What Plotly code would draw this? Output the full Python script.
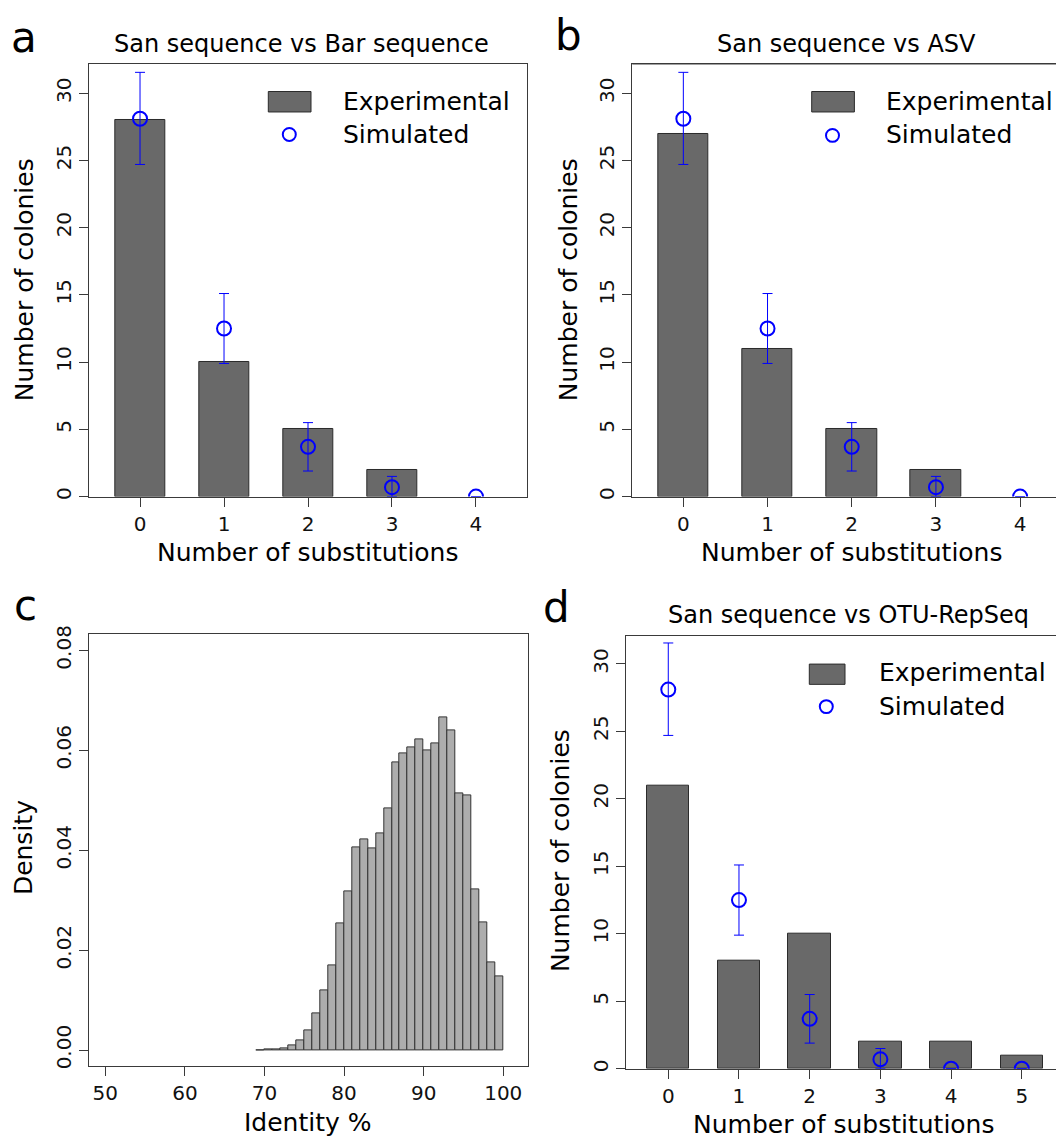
import plotly.graph_objects as go

# The page body has an 8px margin: the figure is drawn 8px smaller and
# coordinates below are given in window pixels, converted with that offset.
W, H = 1064, 1142
OFF = 8
FW, FH = W - OFF, H - OFF
FONT = "DejaVu Sans"

# ---------------- data ----------------
subs_ab = [0, 1, 2, 3, 4]
subs_d = [0, 1, 2, 3, 4, 5]
exp_a = [28, 10, 5, 2, 0]
exp_b = [27, 11, 5, 2, 0]
exp_d = [21, 8, 10, 2, 2, 1]
sim_mean = [28.1, 12.5, 3.7, 0.7, 0.0, 0.0]
sim_upper = [31.55, 15.1, 5.5, 1.5, None, None]
sim_lower = [24.7, 9.9, 1.9, 0.0, None, None]

ident_left = list(range(69, 100))  # histogram bin left edges, width 1
ident_density = [0.00003, 0.00005, 0.0001, 0.0003, 0.0009, 0.002, 0.0039, 0.0074,
                 0.012, 0.017, 0.0254, 0.0318, 0.0405, 0.0421, 0.0404, 0.0433,
                 0.0484, 0.0576, 0.0594, 0.0606, 0.0621, 0.060, 0.0613, 0.0666,
                 0.064, 0.0514, 0.051, 0.0322, 0.0256, 0.0175, 0.0147]

titles = ["San sequence vs Bar sequence", "San sequence vs ASV", "San sequence vs OTU-RepSeq"]
legend_labels = ["Experimental", "Simulated"]

# ---------------- helpers ----------------
def px(x):
    return min(1.0, (x - OFF) / FW)

def py(y):
    return min(1.0, 1 - (y - OFF) / FH)

def err_plus(n):
    return [None if u is None else u - m for u, m in zip(sim_upper[:n], sim_mean[:n])]

def err_minus(n):
    return [None if l is None else m - l for l, m in zip(sim_lower[:n], sim_mean[:n])]

BAR_FILL = "#696969"
BAR_LINE = "#2b2b2b"
AX_LINE = "#3a3a3a"
BLUE = "#0000ff"

fig = go.Figure()

def add_bar_panel(xa, ya, cats, exp_vals):
    n = len(cats)
    fig.add_trace(go.Bar(x=cats, y=exp_vals, width=0.6,
                         marker=dict(color=BAR_FILL, line=dict(color=BAR_LINE, width=[1 if v > 0 else 0 for v in exp_vals])),
                         xaxis=xa, yaxis=ya, showlegend=False))
    fig.add_trace(go.Scatter(x=cats, y=sim_mean[:n], mode="markers",
                             marker=dict(symbol="circle-open", size=14, color=BLUE, line=dict(width=2, color=BLUE)),
                             error_y=dict(type="data", symmetric=False, array=err_plus(n), arrayminus=err_minus(n),
                                          color=BLUE, thickness=1, width=5),
                             xaxis=xa, yaxis=ya, showlegend=False, cliponaxis=True))

add_bar_panel("x", "y", subs_ab, exp_a)
add_bar_panel("x2", "y2", subs_ab, exp_b)
add_bar_panel("x4", "y4", subs_d, exp_d)

fig.add_trace(go.Bar(x=[l + 0.5 for l in ident_left], y=ident_density, width=1,
                     marker=dict(color="#adadad", line=dict(color="#333333", width=1)),
                     xaxis="x3", yaxis="y3", showlegend=False))

tickfont = dict(family=FONT, size=20, color="#111111")

def xaxis_cfg(domain, rng, tickvals, anchor, mirror=True):
    return dict(domain=domain, range=rng, tickvals=tickvals, showline=True, linecolor=AX_LINE, linewidth=1,
                mirror=mirror, ticks="outside", ticklen=9, tickcolor=AX_LINE, tickfont=tickfont,
                showgrid=False, zeroline=False, fixedrange=True, anchor=anchor)

def yaxis_cfg(domain, rng, tickvals, anchor, mirror=True, fmt=None):
    d = dict(domain=domain, range=rng, tickvals=tickvals, showline=True, linecolor=AX_LINE, linewidth=1,
             mirror=mirror, ticks="outside", ticklen=9, tickcolor=AX_LINE, tickfont=tickfont, tickangle=-90,
             showgrid=False, zeroline=False, fixedrange=True, anchor=anchor)
    if fmt:
        d["tickformat"] = fmt
    return d

yt = [0, 5, 10, 15, 20, 25, 30]
fig.update_layout(
    xaxis=xaxis_cfg([px(89.3), px(527.3)], [-0.604, 4.611], subs_ab, "y"),
    yaxis=yaxis_cfg([py(492.7), py(55.5)], [0, 32.17], yt, "x"),
    xaxis2=xaxis_cfg([px(632.3), 1.0], [-0.606, 4.521], subs_ab, "y2"),
    yaxis2=yaxis_cfg([py(492.7), py(55.5)], [0, 32.17], yt, "x2", mirror=False),
    xaxis3=xaxis_cfg([px(89.3), px(527.7)], [47.99, 103.07], [50, 60, 70, 80, 90, 100], "y3"),
    yaxis3=yaxis_cfg([py(1068.3), py(632)], [-0.0032, 0.0832], [0, 0.02, 0.04, 0.06, 0.08], "x3", fmt=".2f"),
    xaxis4=xaxis_cfg([px(626), px(1063)], [-0.598, 5.583], subs_d, "y4"),
    yaxis4=yaxis_cfg([py(1071), py(633.3)], [0, 32.09], yt, "x4"),
)

# top line for panel b (its right edge lies outside the picture)
fig.add_shape(type="line", xref="paper", yref="paper", x0=px(632.3), x1=1.0, y0=py(55.5), y1=py(55.5),
              line=dict(color=AX_LINE, width=1))

annotations = []

def text(x, y, s, size, angle=0, xanchor="center", color="#000000"):
    annotations.append(dict(x=px(x), y=py(y), xref="paper", yref="paper", text=s, showarrow=False,
                            textangle=angle, xanchor=xanchor, yanchor="middle",
                            font=dict(family=FONT, size=size, color=color)))

# panel letters
text(24, 29, "a", 42)
text(568, 27, "b", 42)
text(25, 603, "c", 42)
text(556, 605, "d", 42)

# titles
text(301, 35, titles[0], 24)
text(846, 35, titles[1], 24)
text(848.6, 612, titles[2], 24)

# axis titles
text(308, 549, "Number of substitutions", 25)
text(851.7, 549, "Number of substitutions", 25)
text(844, 1127, "Number of substitutions", 25)
text(307.5, 1125, "Identity %", 25)
text(24, 274, "Number of colonies", 25, angle=-90)
text(568, 274, "Number of colonies", 25, angle=-90)
text(560, 851, "Number of colonies", 25, angle=-90)
text(23, 848, "Density", 25, angle=-90)

# legends
def legend(rx0, rx1, ry0, ry1, cx, cy, tx, ty1, ty2):
    fig.add_shape(type="rect", xref="paper", yref="paper", x0=px(rx0), x1=px(rx1), y0=py(ry1), y1=py(ry0),
                  fillcolor=BAR_FILL, line=dict(color=BAR_LINE, width=1))
    r = 6.5
    fig.add_shape(type="circle", xref="paper", yref="paper", x0=px(cx - r), x1=px(cx + r), y0=py(cy + r), y1=py(cy - r),
                  line=dict(color=BLUE, width=2))
    text(tx, ty1, legend_labels[0], 25, xanchor="left")
    text(tx, ty2, legend_labels[1], 25, xanchor="left")

legend(268.3, 311, 83.3, 104, 289.3, 126.7, 341, 93, 127)
legend(811.7, 854.4, 83.3, 104, 832.5, 127.7, 884, 93, 127)
legend(809.3, 845, 662, 682.5, 826.3, 705, 877, 671, 705)

fig.update_layout(annotations=annotations, width=FW, height=FH, margin=dict(l=0, r=0, t=0, b=0),
                  paper_bgcolor="white", plot_bgcolor="white", bargap=0, showlegend=False,
                  font=dict(family=FONT))

fig.write_html("out.html")
